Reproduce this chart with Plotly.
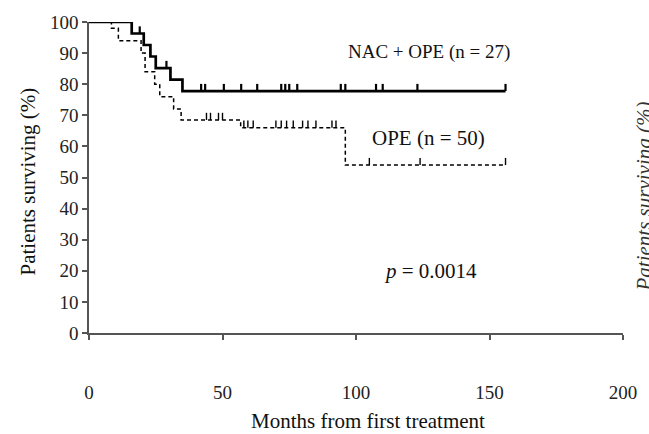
import plotly.graph_objects as go

# ---- data ----
nac_times = [0, 16, 20.5, 23, 25, 30.5, 35, 156]
nac_surv = [100, 96.3, 92.6, 88.9, 85.2, 81.5, 77.8, 77.8]
nac_censor = [19, 29, 42, 43.5, 50.5, 57, 63, 72, 73.5, 75, 78, 94.3, 96, 107.5, 110, 123, 156]

ope_times = [0, 8.4, 11, 19.5, 21, 24.6, 26.5, 31.7, 34.5, 56.8, 96, 156]
ope_surv = [100, 98, 94, 90, 84, 80, 76, 72, 68.5, 66, 54, 54]
ope_censor = [44, 45.5, 48.5, 50, 58, 59.5, 61.5, 70, 72, 74, 76.5, 80, 82, 85, 91, 92.5, 105, 124, 156]

x_ticks = [0, 50, 100, 150, 200]
y_ticks = [0, 10, 20, 30, 40, 50, 60, 70, 80, 90, 100]

labels = {"nac": "NAC + OPE (n = 27)", "ope": "OPE (n = 50)", "p": "<i>p</i> = 0.0014"}

FONT = "Liberation Serif, Times New Roman, serif"
TICK_H = 2.3


def step_value(times, surv, t):
    v = surv[0]
    for ti, si in zip(times, surv):
        if ti <= t:
            v = si
    return v


def censor_segments(times, surv, cens):
    xs, ys = [], []
    for c in cens:
        s = step_value(times, surv, c)
        xs += [c, c, None]
        ys += [s, s + TICK_H, None]
    return xs, ys


fig = go.Figure()

fig.add_trace(go.Scatter(x=ope_times, y=ope_surv, mode="lines", line_shape="hv",
                         line=dict(color="black", width=1.5, dash="4px,3px"), showlegend=False))
cx, cy = censor_segments(ope_times, ope_surv, ope_censor)
fig.add_trace(go.Scatter(x=cx, y=cy, mode="lines", line=dict(color="black", width=1.4),
                         showlegend=False))

fig.add_trace(go.Scatter(x=nac_times, y=nac_surv, mode="lines", line_shape="hv",
                         line=dict(color="black", width=2.7), showlegend=False))
cx, cy = censor_segments(nac_times, nac_surv, nac_censor)
fig.add_trace(go.Scatter(x=cx, y=cy, mode="lines", line=dict(color="black", width=2.2),
                         showlegend=False))

axis_common = dict(showgrid=False, zeroline=False, showline=True, linecolor="#555",
                   linewidth=1.5, ticks="outside", ticklen=5, tickcolor="#555", tickwidth=1.5,
                   tickfont=dict(family=FONT, size=19, color="#222"))

fig.update_xaxes(range=[0, 200], tickvals=x_ticks, ticklabelstandoff=36, **axis_common)
fig.update_yaxes(range=[0, 100], tickvals=y_ticks, ticklabelstandoff=0, **axis_common)

fig.add_annotation(x=127.5, y=90.5, text=labels["nac"], showarrow=False,
                   font=dict(family=FONT, size=19, color="#111"))
fig.add_annotation(x=127, y=62.8, text=labels["ope"], showarrow=False,
                   font=dict(family=FONT, size=21, color="#111"))
fig.add_annotation(x=128, y=20, text=labels["p"], showarrow=False,
                   font=dict(family=FONT, size=21, color="#111"))

fig.add_annotation(xref="paper", yref="paper", x=0.523, y=-0.282, yanchor="middle",
                   text="Months from first treatment", showarrow=False,
                   font=dict(family=FONT, size=21, color="#111"))
fig.add_annotation(xref="paper", yref="paper", x=-0.114, y=0.4875, xanchor="center",
                   text="Patients surviving (%)", textangle=-90, showarrow=False,
                   font=dict(family=FONT, size=21, color="#111"))
fig.add_annotation(xref="paper", yref="paper", x=1.04, y=0.44, xanchor="center",
                   text="<i>Patients surviving (%)</i>", textangle=-90, showarrow=False,
                   font=dict(family=FONT, size=21, color="#333"))

fig.update_layout(width=649, height=434, margin=dict(l=89, r=15, t=12, b=101),
                  plot_bgcolor="white", paper_bgcolor="white")

fig.write_html("out.html", post_script="document.body.style.margin='0';",
               config={"displayModeBar": False})
